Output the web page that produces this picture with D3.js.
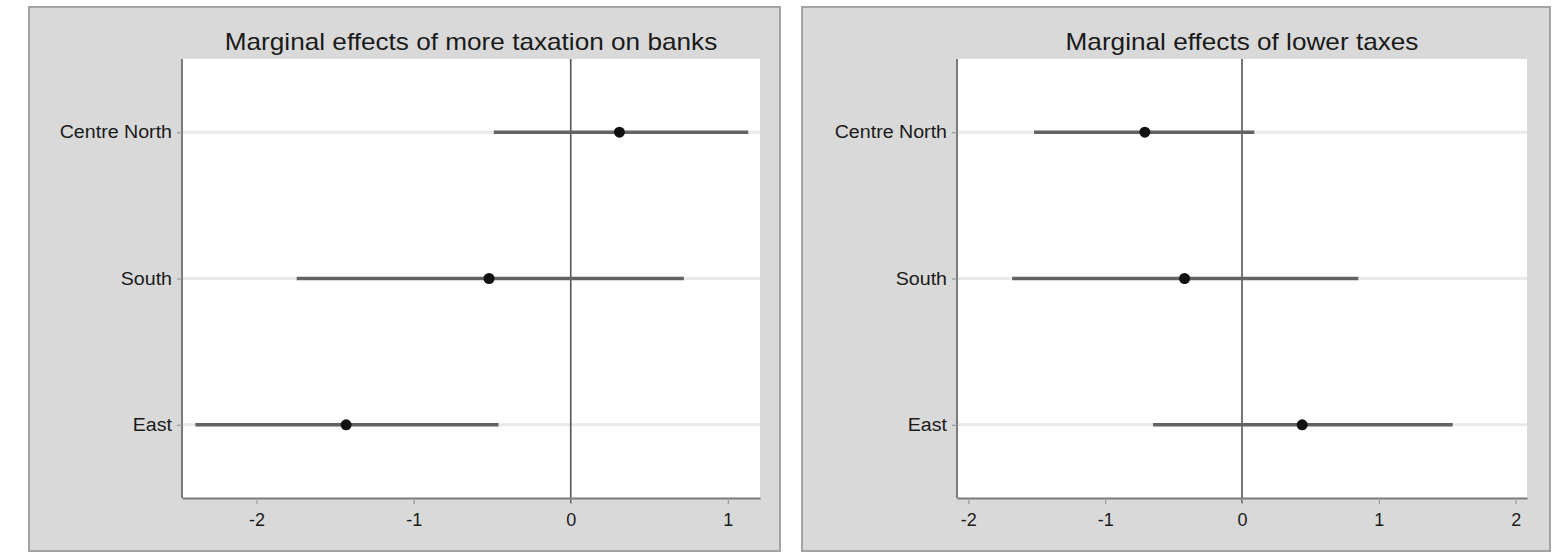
<!DOCTYPE html>
<html>
<head>
<meta charset="utf-8">
<script src="https://cdn.jsdelivr.net/npm/d3@7"></script>
<style>
  html, body { margin: 0; padding: 0; background: #ffffff; }
  svg { display: block; }
  text { font-family: "Liberation Sans", Arial, sans-serif; fill: #1a1a1a; }
</style>
</head>
<body>
<svg id="chart" width="1568" height="554"></svg>
<script>
// ---------------- data ----------------
const categories = ["Centre North", "South", "East"];

const leftTitle = "Marginal effects of more taxation on banks";
const leftEstimate = [0.31, -0.52, -1.43];
const leftLower    = [-0.49, -1.745, -2.39];
const leftUpper    = [1.13, 0.72, -0.46];
const leftTicks    = [-2, -1, 0, 1];

const rightTitle = "Marginal effects of lower taxes";
const rightEstimate = [-0.71, -0.42, 0.44];
const rightLower    = [-1.52, -1.68, -0.65];
const rightUpper    = [0.09, 0.85, 1.54];
const rightTicks    = [-2, -1, 0, 1, 2];

// ---------------- layout ----------------
const svg = d3.select("#chart");
const STRETCH = 1.09;   // reference text is slightly wide

const panels = [
  { title: leftTitle, est: leftEstimate, lo: leftLower, hi: leftUpper, ticks: leftTicks,
    frame: { x0: 29, x1: 780 }, plot: { x0: 182, x1: 760 }, domain: [-2.475, 1.205] },
  { title: rightTitle, est: rightEstimate, lo: rightLower, hi: rightUpper, ticks: rightTicks,
    frame: { x0: 802, x1: 1550 }, plot: { x0: 957, x1: 1527 }, domain: [-2.083, 2.083] }
];

const frameTop = 7, frameBottom = 551;
const plotTop = 59, plotBottom = 498;

function stretchText(sel) {
  sel.each(function() {
    const len = this.getComputedTextLength();
    d3.select(this).attr("textLength", len * STRETCH).attr("lengthAdjust", "spacingAndGlyphs");
  });
}

panels.forEach(p => {
  const g = svg.append("g");

  // outer frame
  g.append("rect")
    .attr("x", p.frame.x0).attr("y", frameTop)
    .attr("width", p.frame.x1 - p.frame.x0).attr("height", frameBottom - frameTop)
    .attr("fill", "#d9d9d9").attr("stroke", "#a3a3a3").attr("stroke-width", 2);

  // plot region
  g.append("rect")
    .attr("x", p.plot.x0).attr("y", plotTop)
    .attr("width", p.plot.x1 - p.plot.x0).attr("height", plotBottom - plotTop)
    .attr("fill", "#ffffff");

  const x = d3.scaleLinear().domain(p.domain).range([p.plot.x0, p.plot.x1]);
  const y = d3.scalePoint().domain(categories).range([plotTop, plotBottom]).padding(0.5);

  const rows = categories.map((c, i) => ({ cat: c, est: p.est[i], lo: p.lo[i], hi: p.hi[i] }));

  // row gridlines
  g.selectAll(".grid").data(categories).join("line")
    .attr("x1", p.plot.x0).attr("x2", p.plot.x1)
    .attr("y1", d => y(d)).attr("y2", d => y(d))
    .attr("stroke", "#e9e9e9").attr("stroke-width", 3);

  // zero reference line
  g.append("line")
    .attr("x1", x(0)).attr("x2", x(0))
    .attr("y1", plotTop).attr("y2", plotBottom + 5)
    .attr("stroke", "#555555").attr("stroke-width", 1.6);

  // confidence intervals
  g.selectAll(".ci").data(rows).join("line")
    .attr("x1", d => x(d.lo)).attr("x2", d => x(d.hi))
    .attr("y1", d => y(d.cat)).attr("y2", d => y(d.cat))
    .attr("stroke", "#626262").attr("stroke-width", 3.5);

  // point estimates
  g.selectAll(".pt").data(rows).join("circle")
    .attr("cx", d => x(d.est)).attr("cy", d => y(d.cat))
    .attr("r", 5.5).attr("fill", "#111111");

  // x axis
  const xAxis = d3.axisBottom(x).tickValues(p.ticks).tickFormat(d => String(d))
    .tickSize(6).tickPadding(9).tickSizeOuter(0);
  const xa = g.append("g").attr("transform", `translate(0,${plotBottom})`).call(xAxis);
  xa.select(".domain").attr("stroke", "#7a7a7a").attr("stroke-width", 2);
  xa.selectAll(".tick line").attr("stroke", "#9a9a9a").attr("stroke-width", 1.2);
  xa.selectAll(".tick text").attr("font-size", 18).attr("fill", "#1a1a1a")
    .attr("font-family", "Liberation Sans, Arial, sans-serif");

  // y axis
  const yAxis = d3.axisLeft(y).tickSize(5).tickPadding(5).tickSizeOuter(0);
  const ya = g.append("g").attr("transform", `translate(${p.plot.x0},0)`).call(yAxis);
  ya.select(".domain").attr("stroke", "#7a7a7a").attr("stroke-width", 2)
    .attr("d", `M0,${plotTop}V${plotBottom}`);
  ya.selectAll(".tick line").attr("stroke", "#9a9a9a").attr("stroke-width", 1.2);
  ya.selectAll(".tick text").attr("font-size", 18).attr("fill", "#1a1a1a")
    .attr("font-family", "Liberation Sans, Arial, sans-serif")
    .call(stretchText);

  // title
  g.append("text")
    .attr("x", (p.plot.x0 + p.plot.x1) / 2).attr("y", 50)
    .attr("text-anchor", "middle")
    .attr("font-size", 24).attr("fill", "#2a2a2a")
    .text(p.title)
    .call(stretchText);
});
</script>
</body>
</html>
